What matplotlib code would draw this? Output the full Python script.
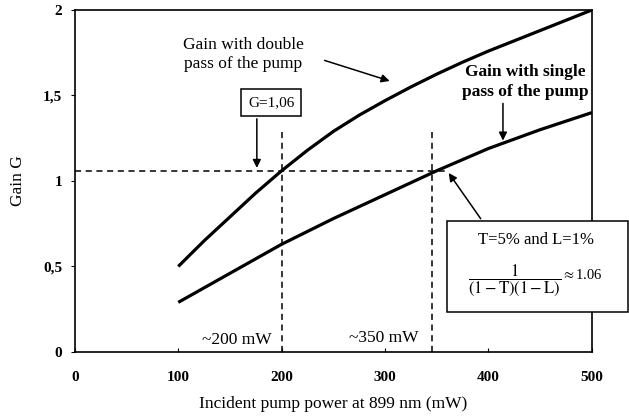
import numpy as np
import matplotlib.pyplot as plt
from matplotlib.patches import Rectangle

plt.rcParams['font.family'] = ['Liberation Serif', 'DejaVu Serif']
plt.rcParams['mathtext.fontset'] = 'stix'

# pump power (mW) and gain values
power = [100, 125, 150, 175, 200, 225, 250, 275, 300, 325, 350, 375, 400, 425, 450, 475, 500]
gain_double = [0.50, 0.65, 0.79, 0.93, 1.06, 1.18, 1.29, 1.385, 1.47, 1.55, 1.625, 1.695,
               1.76, 1.82, 1.88, 1.94, 2.00]
gain_single = [0.29, 0.375, 0.46, 0.545, 0.63, 0.705, 0.78, 0.85, 0.92, 0.99, 1.06, 1.125,
               1.19, 1.245, 1.30, 1.35, 1.40]

g_threshold = 1.06
p_double = 200
p_single = 345

xticks = [0, 100, 200, 300, 400, 500]
yticks = [0, 0.5, 1, 1.5, 2]
ylabels = ['0', '0,5', '1', '1,5', '2']

fig = plt.figure(figsize=(6.29, 4.17), dpi=100)
ax = fig.add_axes([0.119, 0.156, 0.822, 0.820])

ax.plot(power, gain_double, color='black', lw=2.3, solid_capstyle='butt', solid_joinstyle='round')
ax.plot(power, gain_single, color='black', lw=2.3, solid_capstyle='butt', solid_joinstyle='round')

# threshold guides
ax.plot([0, 359], [g_threshold, g_threshold], color='black', lw=1.1, ls=(0, (4, 3)))
ax.plot([p_double, p_double], [0, 1.31], color='black', lw=1.1, ls=(0, (4, 3)))
ax.plot([p_single, p_single], [0, 1.31], color='black', lw=1.1, ls=(0, (4, 3)))

ax.set_xlim(0, 500)
ax.set_ylim(0, 2)
ax.set_xticks(xticks)
ax.set_xticklabels([str(t) for t in xticks], fontweight='bold', fontsize=11)
ax.set_yticks(yticks)
ax.set_yticklabels(ylabels, fontweight='bold', fontsize=11)
ax.tick_params(axis='x', direction='in', length=3, pad=14)
ax.tick_params(axis='y', direction='out', length=3, pad=6)
for s in ax.spines.values():
    s.set_linewidth(1.2)

ax.set_xlabel('Incident pump power at 899 nm (mW)', fontsize=12.5, labelpad=8)
ax.set_ylabel('Gain G', fontsize=12.5, labelpad=12)

arrow = dict(arrowstyle='-|>', color='black', lw=1.1, mutation_scale=12)

ax.text(163, 1.74, 'Gain with double\npass of the pump', ha='center', va='center',
        fontsize=12.5, linespacing=1.3)
ax.annotate('', xy=(307, 1.58), xytext=(239, 1.71), arrowprops=arrow)

ax.text(190, 1.46, 'G=1,06', ha='center', va='center', fontsize=11,
        bbox=dict(boxstyle='square,pad=0.45', fc='white', ec='black', lw=1.1))
ax.annotate('', xy=(176, g_threshold), xytext=(176, 1.38), arrowprops=arrow)

ax.text(436, 1.58, 'Gain with single\npass of the pump', ha='center', va='center',
        fontsize=12.5, fontweight='bold', linespacing=1.3)
ax.annotate('', xy=(414, 1.22), xytext=(414, 1.47), arrowprops=arrow)

ax.text(190, 0.07, '~200 mW', ha='right', va='center', fontsize=12.5)
ax.text(332, 0.08, '~350 mW', ha='right', va='center', fontsize=12.5)

# loss box, sticks out past the right spine
ax.add_patch(Rectangle((360, 0.234), 175, 0.532, fc='white', ec='black', lw=1.1,
                       clip_on=False, zorder=5))
ax.text(446, 0.655, 'T=5% and L=1%', ha='center', va='center', fontsize=12, zorder=6)
ax.text(425, 0.42, r'$\dfrac{1}{(1-\mathrm{T})(1-\mathrm{L})}$',
        ha='center', va='center', fontsize=12, zorder=6)
ax.text(470, 0.45, r'$\approx$1.06', ha='left', va='center', fontsize=10.5, zorder=6)
ax.annotate('', xy=(360, 1.06), xytext=(394, 0.766), arrowprops=arrow)

fig.savefig('out.png', dpi=100)
